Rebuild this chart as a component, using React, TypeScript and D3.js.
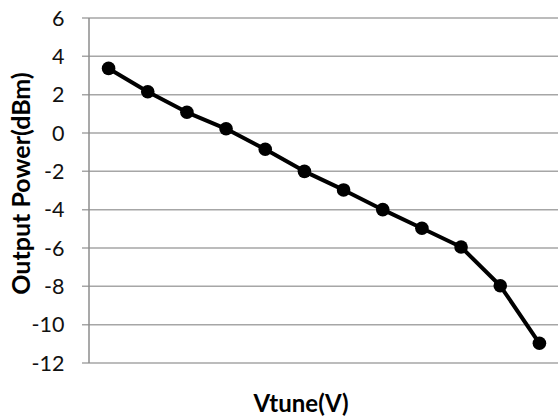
import React from "react";
import * as d3 from "d3";

const categories = ["1", "2", "3", "4", "5", "6", "7", "8", "9", "10", "11", "12"];
const power = [3.37, 2.15, 1.08, 0.22, -0.85, -2.0, -2.97, -4.0, -4.97, -5.95, -7.97, -10.97];
const yTicks = [6, 4, 2, 0, -2, -4, -6, -8, -10, -12];

const W = 558;
const H = 419;
const left = 89;
const right = 559;
const top = 18;
const bottom = 363;
const font = "Lato, 'Open Sans', sans-serif";

export default function App() {
  const x = d3.scaleBand<string>().domain(categories).range([left, right]);
  const y = d3.scaleLinear().domain([-12, 6]).range([bottom, top]);
  const data = categories.map((c, i) => ({ c, v: power[i] }));
  const line = d3
    .line<{ c: string; v: number }>()
    .x((d) => (x(d.c) as number) + x.bandwidth() / 2)
    .y((d) => y(d.v));

  return (
    <svg
      width={W}
      height={H}
      style={{ position: "absolute", left: 0, top: 0, background: "#fff" }}
    >
      {yTicks.map((t) => (
        <g key={t}>
          <line x1={82} x2={right} y1={y(t)} y2={y(t)} stroke="#a6a6a6" strokeWidth={1.5} />
          <text
            x={64.5}
            y={y(t)}
            dy="0.36em"
            textAnchor="end"
            fontFamily={font}
            fontSize={21.5}
            fill="#111"
          >
            {t}
          </text>
        </g>
      ))}
      <line x1={left} x2={left} y1={top} y2={bottom} stroke="#8c8c8c" strokeWidth={1.5} />
      <path d={line(data) || ""} fill="none" stroke="#000" strokeWidth={4} strokeLinejoin="round" />
      {data.map((d) => (
        <circle
          key={d.c}
          cx={(x(d.c) as number) + x.bandwidth() / 2}
          cy={y(d.v)}
          r={6.8}
          fill="#000"
        />
      ))}
      <text
        transform={`translate(30, 183.5) rotate(-90)`}
        textAnchor="middle"
        fontFamily={font}
        fontWeight="bold"
        fontSize={25}
        fill="#000"
      >
        Output Power(dBm)
      </text>
      <text
        x={301}
        y={412}
        textAnchor="middle"
        fontFamily={font}
        fontWeight="bold"
        fontSize={24}
        fill="#000"
      >
        Vtune(V)
      </text>
    </svg>
  );
}
